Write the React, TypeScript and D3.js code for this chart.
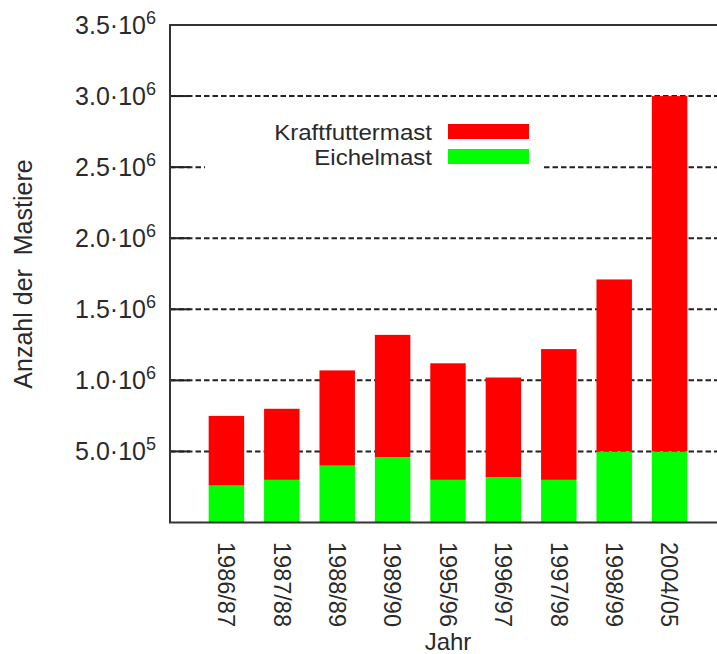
import React from "react";
import * as d3 from "d3";

const years = [
  "1986/87",
  "1987/88",
  "1988/89",
  "1989/90",
  "1995/96",
  "1996/97",
  "1997/98",
  "1998/99",
  "2004/05",
];
const eichelmast = [260000, 300000, 400000, 460000, 300000, 320000, 300000, 500000, 500000];
const kraftfuttermast = [490000, 500000, 670000, 860000, 820000, 700000, 920000, 1210000, 2500000];
const seriesNames = ["Kraftfuttermast", "Eichelmast"];
const seriesColors = ["#ff0000", "#00ff00"];
const yTicks = [500000, 1000000, 1500000, 2000000, 2500000, 3000000, 3500000];

const width = 717;
const height = 654;
const left = 170;
const top = 25;
const bottom = 522.5;
const font = "'Liberation Sans', Arial, sans-serif";
const textColor = "#2a2a2a";

const App: React.FC = () => {
  const x = d3.scaleLinear().domain([0, 10]).range([171, 725]);
  const y = d3.scaleLinear().domain([0, 3500000]).range([bottom, top]);
  const barW = x(0.64) - x(0);

  const rows = years.map((yr, i) => ({
    year: yr,
    Eichelmast: eichelmast[i],
    Kraftfuttermast: kraftfuttermast[i],
  }));
  const stacked = d3.stack<any>().keys(["Eichelmast", "Kraftfuttermast"])(rows);

  const fmt = (v: number) => {
    const e = Math.floor(Math.log10(v) + 1e-9);
    return { m: (v / Math.pow(10, e)).toFixed(1), e: String(e) };
  };

  return (
    <svg
      width={width}
      height={height}
      style={{ position: "absolute", left: 0, top: 0, background: "#fff" }}
    >
      <rect width={width} height={height} fill="#fff" />
      {/* gridlines */}
      {yTicks
        .filter((t) => t < 3500000)
        .map((t) => (
          <line
            key={"g" + t}
            x1={left}
            x2={width}
            y1={y(t)}
            y2={y(t)}
            stroke="#222"
            strokeWidth={2}
            strokeDasharray="5.5,3"
          />
        ))}
      {/* legend background */}
      <rect x={205} y={112} width={336} height={60} fill="#fff" />
      {/* bars */}
      {stacked.map((layer) => (
        <g key={layer.key} fill={layer.key === "Eichelmast" ? seriesColors[1] : seriesColors[0]}>
          {layer.map((d, i) => (
            <rect
              key={i}
              x={x(i + 1) - barW / 2}
              y={y(d[1])}
              width={barW}
              height={y(d[0]) - y(d[1])}
            />
          ))}
        </g>
      ))}
      {/* ticks */}
      {yTicks.map((t) => (
        <line key={"t" + t} x1={left} x2={left + 20} y1={y(t)} y2={y(t)} stroke="#222" strokeWidth={2} />
      ))}
      {/* frame */}
      <path
        d={`M${width},${y(3500000)}H${left}V${y(0)}H${width}`}
        fill="none"
        stroke="#333"
        strokeWidth={2}
      />
      {/* y tick labels */}
      {yTicks.map((t) => {
        const f = fmt(t);
        return (
          <text
            key={"l" + t}
            x={156}
            y={y(t) + 9}
            textAnchor="end"
            fontFamily={font}
            fontSize={25}
            fill={textColor}
          >
            {f.m}·10
            <tspan fontSize={18} dy={-10}>
              {f.e}
            </tspan>
          </text>
        );
      })}
      {/* x tick labels */}
      {years.map((yr, i) => (
        <text
          key={yr}
          transform={`translate(${x(i + 1)},${542}) rotate(90)`}
          dy="0.35em"
          fontFamily={font}
          fontSize={23.5}
          fill={textColor}
        >
          {yr}
        </text>
      ))}
      {/* axis titles */}
      <text x={448} y={650} textAnchor="middle" fontFamily={font} fontSize={24} fill={textColor}>
        Jahr
      </text>
      <text
        transform={`translate(32,274) rotate(-90)`}
        textAnchor="middle"
        fontFamily={font}
        fontSize={25}
        fill={textColor}
        style={{ whiteSpace: "pre" }}
      >
        {"Anzahl der  Mastiere"}
      </text>
      {/* legend */}
      {seriesNames.map((name, i) => (
        <g key={name}>
          <text
            transform={`translate(432,${139.5 + i * 25}) scale(1.12,1)`}
            textAnchor="end"
            fontFamily={font}
            fontSize={21.5}
            fill={textColor}
          >
            {name}
          </text>
          <rect x={448} y={124 + i * 25} width={81} height={15} fill={seriesColors[i]} />
        </g>
      ))}
    </svg>
  );
};

export default App;
